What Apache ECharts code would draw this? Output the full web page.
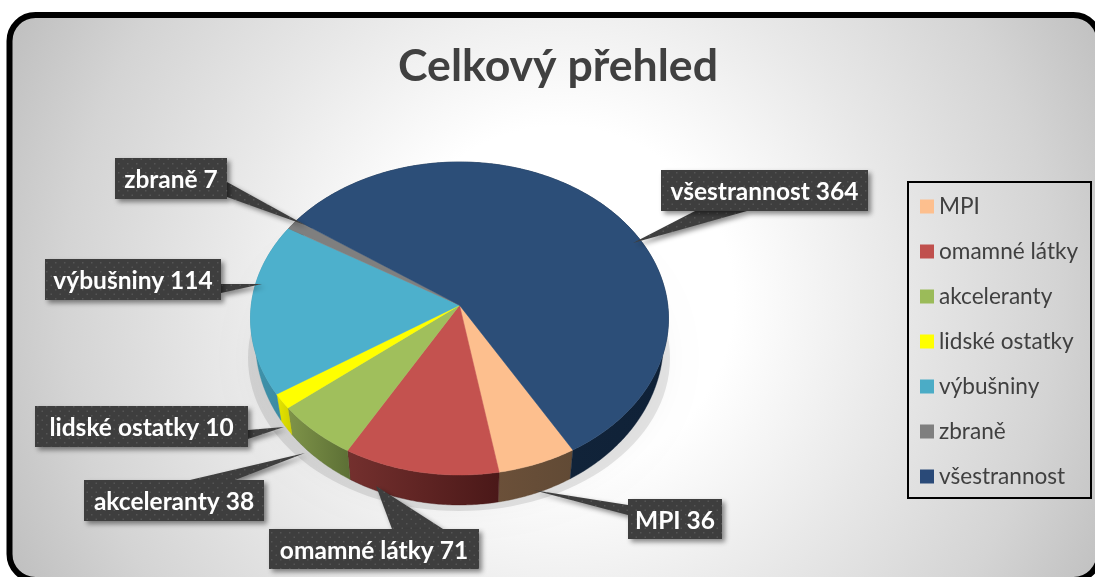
<!DOCTYPE html>
<html>
<head>
<meta charset="utf-8">
<style>html,body{margin:0;padding:0;background:#fff;overflow:hidden}#c{width:1095px;height:577px}</style>
<script src="https://cdn.jsdelivr.net/npm/echarts@6/dist/echarts.min.js"></script>
</head>
<body>
<div id="c"></div>
<script>
const titleText = 'Celkový přehled';
const categories = ['MPI', 'omamné látky', 'akceleranty', 'lidské ostatky', 'výbušniny', 'zbraně', 'všestrannost'];
const values = [36, 71, 38, 10, 114, 7, 364];
const topColors = ['#FDBF8E', '#C4524F', '#A0BF5C', '#FFFF00', '#4DB0CC', '#7F7F7F', '#2C4E78'];
const legendColors = ['#FDBF8E', '#C0504D', '#9BBB59', '#FFFF00', '#4BACC6', '#7F7F7F', '#2A4A78'];
const wallLeft = ['#6B5039', '#74302E', '#7F9449', '#E6E600', '#3F93AB', '#666666', '#16293F'];
const wallRight = ['#614A35', '#4A1818', '#5C6F35', '#CFCF00', '#3A88A0', '#555555', '#0F2137'];

// Layout of the tilted pie (projection of the value circle to the page)
const P = { cx: 459.5, cy: 318.5, rx: 209, ry: 156.5, cy2: 341, rx2: 204, ry2: 164, persp: -0.085, start: -30.3 };
// Label boxes [x, y, w, h] and callout triangles [tip, base a, base b]
const boxes = [[628,499,94,40],[269,529,210,40],[84,480,180,41],[35,406,213,41],[45,259,176,41],[115,158,112,41],[661,170,207,41]];
const tails = [
  [[533,490],[628,505],[628,515]],
  [[376,486],[392,529],[443,529]],
  [[305,453],[190,480],[235,480]],
  [[284,427],[248,430],[248,439]],
  [[262,284],[221,284],[221,293]],
  [[305,225],[227,182],[227,197]],
  [[633,243],[695,211],[747,211]]
];

const total = values.reduce((a, b) => a + b, 0);
function project(t) {
  const u = -Math.sin(t), v = Math.cos(t), p = P.persp, d = 1 + p * v;
  return [u * Math.sqrt(1 - p * p) / d, (v + p) / d];
}
function rimTop(t) { const q = project(t); return [P.cx + P.rx * q[0], P.cy + P.ry * q[1]]; }
function rimBot(t) { const q = project(t); return [P.cx + P.rx2 * q[0], P.cy2 + P.ry2 * q[1]]; }
function sliceRange(i) {
  let before = 0;
  for (let k = 0; k < i; k++) before += values[k];
  const s = P.start * Math.PI / 180;
  return [s + before / total * 2 * Math.PI, s + (before + values[i]) / total * 2 * Math.PI];
}
function samples(a, b) {
  const n = Math.max(2, Math.ceil(Math.abs(b - a) / 0.01)), out = [];
  for (let k = 0; k <= n; k++) out.push(a + (b - a) * k / n);
  return out;
}

const dot = document.createElement('canvas');
dot.width = 9; dot.height = 9;
(function () {
  const g = dot.getContext('2d');
  g.fillStyle = '#3E3E3E'; g.fillRect(0, 0, 9, 9);
  g.fillStyle = '#555555';
  g.fillRect(1, 1, 1.5, 1.5); g.fillRect(5.5, 5.5, 1.5, 1.5);
})();

const wallSeries = {
  type: 'custom', name: 'walls', coordinateSystem: 'none', silent: true, z: 2,
  data: categories.map((c, i) => [i]),
  renderItem: function (params, api) {
    const i = api.value(0), r = sliceRange(i), ts = samples(r[0], r[1]);
    const pts = ts.map(rimTop).concat(ts.slice().reverse().map(rimBot));
    const fill = new echarts.graphic.LinearGradient(0, 0, 1, 0, [
      { offset: 0, color: wallLeft[i] }, { offset: 1, color: wallRight[i] }
    ]);
    return { type: 'polygon', shape: { points: pts }, style: { fill: fill, stroke: wallRight[i], lineWidth: 0.4 } };
  }
};

const sliceSeries = categories.map((name, i) => ({
  type: 'custom', name: name, coordinateSystem: 'none', silent: true, z: 3,
  color: legendColors[i],
  itemStyle: { color: legendColors[i] },
  data: [[values[i]]],
  renderItem: function () {
    const r = sliceRange(i);
    const apex = [P.cx, P.cy + P.ry * P.persp];
    const pts = [apex].concat(samples(r[0], r[1]).map(rimTop));
    return { type: 'polygon', shape: { points: pts }, style: { fill: topColors[i], stroke: topColors[i], lineWidth: 0.5 } };
  }
}));

const labelSeries = {
  type: 'custom', name: 'labels', coordinateSystem: 'none', silent: true, z: 5,
  data: categories.map((c, i) => [i, values[i]]),
  renderItem: function (params, api) {
    const i = api.value(0), b = boxes[i], t = tails[i];
    const shadow = { shadowBlur: 5, shadowOffsetX: 3, shadowOffsetY: 3, shadowColor: 'rgba(0,0,0,0.45)' };
    return {
      type: 'group',
      children: [
        { type: 'polygon', shape: { points: t }, style: Object.assign({ fill: { image: dot, repeat: 'repeat' } }, shadow) },
        { type: 'rect', shape: { x: b[0], y: b[1], width: b[2], height: b[3] }, style: Object.assign({ fill: { image: dot, repeat: 'repeat' } }, shadow) },
        { type: 'text', style: {
            x: b[0] + b[2] / 2, y: b[1] + b[3] / 2 + 2, align: 'center', verticalAlign: 'middle',
            text: categories[i] + ' ' + api.value(1),
            fill: '#FFFFFF', font: 'bold 24.5px Lato, "Open Sans", sans-serif'
        } }
      ]
    };
  }
};

const chart = echarts.init(document.getElementById('c'), null, { renderer: 'canvas' });
chart.setOption({
  animation: false,
  backgroundColor: '#FFFFFF',
  title: {
    text: titleText, left: 553, top: 39, textAlign: 'center',
    textStyle: { color: '#404040', fontSize: 44.6, fontWeight: 'bold', fontFamily: 'Lato' }
  },
  legend: {
    orient: 'vertical', left: 920, top: 195, padding: 0, itemWidth: 14, itemHeight: 14, itemGap: 22,
    icon: 'rect', selectedMode: false, data: categories,
    textStyle: { color: '#404040', fontSize: 22.6, fontFamily: 'Lato' }
  },
  graphic: [
    { type: 'rect', z: -10, shape: { x: 9.5, y: 15, width: 1090, height: 565, r: 26 },
      style: { stroke: '#000000', lineWidth: 6,
        fill: { type: 'radial', x: 560, y: 300, r: 620, global: true, colorStops: [
          { offset: 0, color: '#FFFFFF' }, { offset: 0.28, color: '#FFFFFF' },
          { offset: 0.55, color: '#E8E8E8' }, { offset: 0.8, color: '#D4D4D4' }, { offset: 1, color: '#BEBEBE' }
        ] } } },
    { type: 'ellipse', z: -5, shape: { cx: 459, cy: 358, rx: 211, ry: 153 },
      style: { fill: 'rgba(0,0,0,0.1)', shadowBlur: 24, shadowColor: 'rgba(0,0,0,0.28)' } },
    { type: 'rect', z: 1, shape: { x: 908, y: 182, width: 183, height: 316 },
      style: { fill: 'rgba(255,255,255,0)', stroke: '#000000', lineWidth: 2 } }
  ],
  series: [wallSeries].concat(sliceSeries, [labelSeries])
});
</script>
</body>
</html>
